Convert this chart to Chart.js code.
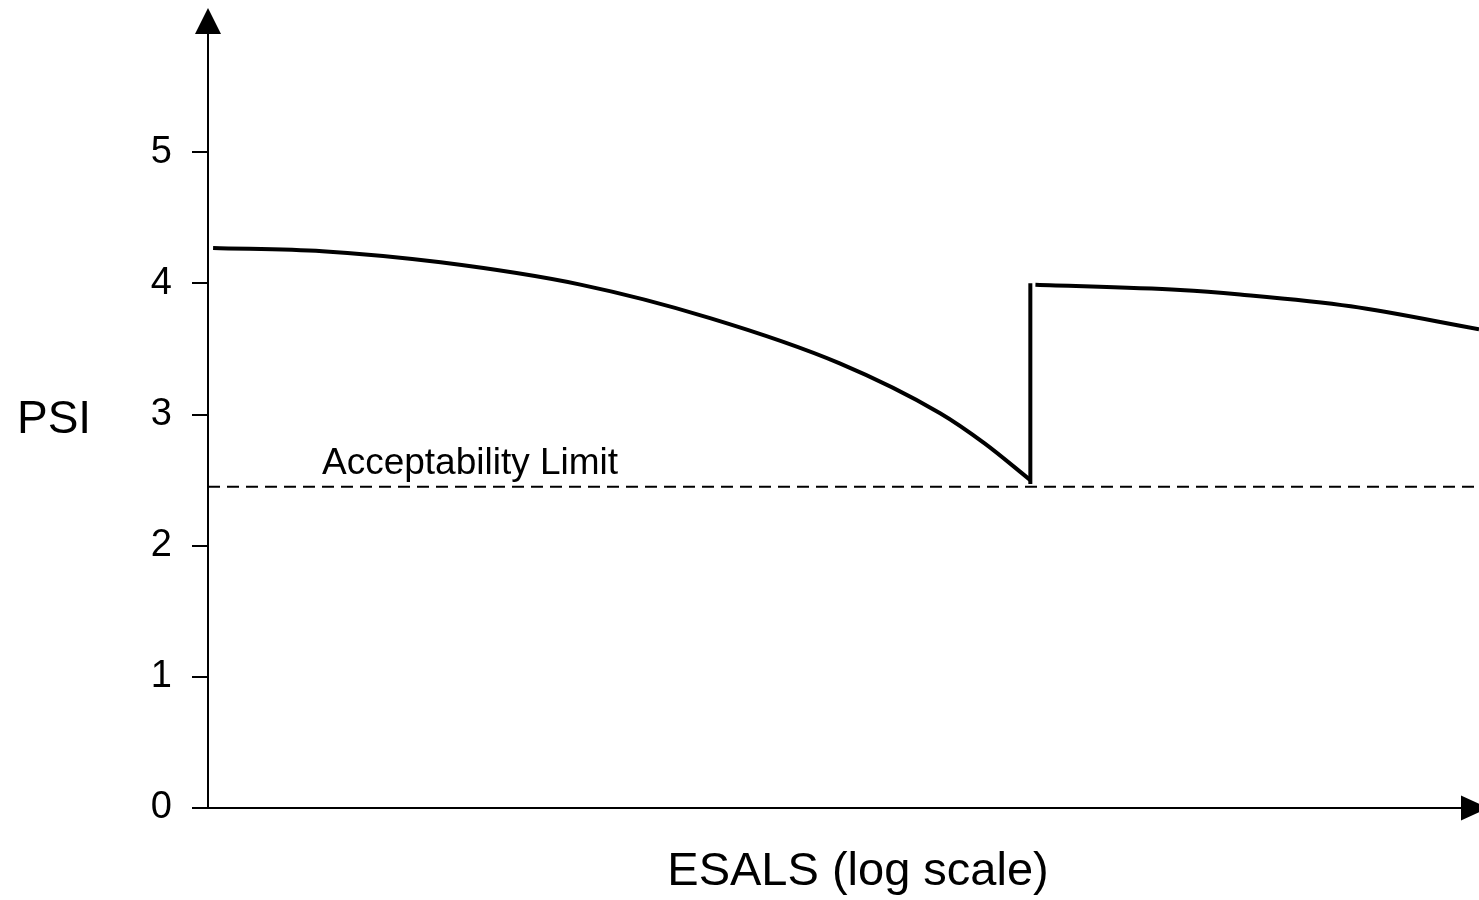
<!DOCTYPE html>
<html>
<head>
<meta charset="utf-8">
<script src="https://cdn.jsdelivr.net/npm/chart.js@4"></script>
<style>
  body { margin: 0; background: #fff; }
  canvas { display: block; }
</style>
</head>
<body>
<canvas id="chart" width="1479" height="900"></canvas>
<script>
  // esals axis has no numbers, so x is just position along it (0..100)
  const firstLifeX = [0.4, 9, 18.3, 29.3, 39.5, 49.7, 57.6, 61.1, 64.7];
  const firstLifePsi = [4.27, 4.245, 4.16, 3.99, 3.735, 3.39, 3.01, 2.78, 2.5];

  const overlayX = [64.7, 64.7];
  const overlayPsi = [2.47, 4.0];

  const secondLifeX = [65.1, 76.5, 81.2, 89.9, 100];
  const secondLifePsi = [3.99, 3.95, 3.915, 3.825, 3.65];

  const limitPsi = 2.45;
  const yTicks = [0, 1, 2, 3, 4, 5];

  const font = 'Liberation Sans, Arial, sans-serif';

  function pts(xs, ys) {
    return xs.map((x, i) => ({ x: x, y: ys[i] }));
  }

  const extras = {
    id: 'extras',
    afterDraw(chart) {
      const ctx = chart.ctx;
      const area = chart.chartArea;
      const y = chart.scales.y;

      ctx.save();
      ctx.fillStyle = '#000';

      // arrow heads
      ctx.beginPath();
      ctx.moveTo(area.left, 8);
      ctx.lineTo(area.left - 13, 34);
      ctx.lineTo(area.left + 13, 34);
      ctx.closePath();
      ctx.fill();

      ctx.beginPath();
      ctx.moveTo(1488, area.bottom);
      ctx.lineTo(1461, area.bottom - 12.5);
      ctx.lineTo(1461, area.bottom + 12.5);
      ctx.closePath();
      ctx.fill();

      // texts
      ctx.font = '37px ' + font;
      ctx.textAlign = 'left';
      ctx.textBaseline = 'alphabetic';
      ctx.fillText('Acceptability Limit', 322, y.getPixelForValue(limitPsi) - 13);

      ctx.font = '46px ' + font;
      ctx.textBaseline = 'middle';
      ctx.fillText('PSI', 17, 420);

      ctx.font = '47px ' + font;
      ctx.textAlign = 'center';
      ctx.fillText('ESALS (log scale)', 858, 872);
      ctx.restore();
    }
  };

  const curve = {
    borderColor: '#000',
    borderWidth: 4,
    pointRadius: 0,
    cubicInterpolationMode: 'monotone'
  };

  new Chart(document.getElementById('chart'), {
    type: 'line',
    data: {
      datasets: [
        Object.assign({ data: pts(firstLifeX, firstLifePsi) }, curve),
        Object.assign({ data: pts(overlayX, overlayPsi) }, curve),
        Object.assign({ data: pts(secondLifeX, secondLifePsi) }, curve),
        {
          data: pts([0, 100], [limitPsi, limitPsi]),
          borderColor: '#000',
          borderWidth: 2,
          borderDash: [12, 7],
          pointRadius: 0
        }
      ]
    },
    options: {
      responsive: false,
      animation: false,
      layout: { padding: { top: 21, right: 0, bottom: 0, left: 0 } },
      plugins: {
        legend: { display: false },
        tooltip: { enabled: false }
      },
      scales: {
        x: {
          type: 'linear',
          min: 0,
          max: 100,
          grid: { display: false },
          ticks: { display: false },
          border: { color: '#000', width: 2 },
          afterFit(s) { s.height = 92; }
        },
        y: {
          min: 0,
          max: 6,
          afterBuildTicks(s) { s.ticks = yTicks.map(v => ({ value: v })); },
          ticks: {
            color: '#000',
            padding: 20,
            font: { family: font, size: 38 }
          },
          grid: {
            drawOnChartArea: false,
            tickLength: 16,
            tickColor: '#000',
            lineWidth: 2
          },
          border: { color: '#000', width: 2 },
          afterFit(s) {
            s.width = 208;
            s.paddingTop = 0;
            s.paddingBottom = 0;
          }
        }
      }
    },
    plugins: [extras]
  });
</script>
</body>
</html>
